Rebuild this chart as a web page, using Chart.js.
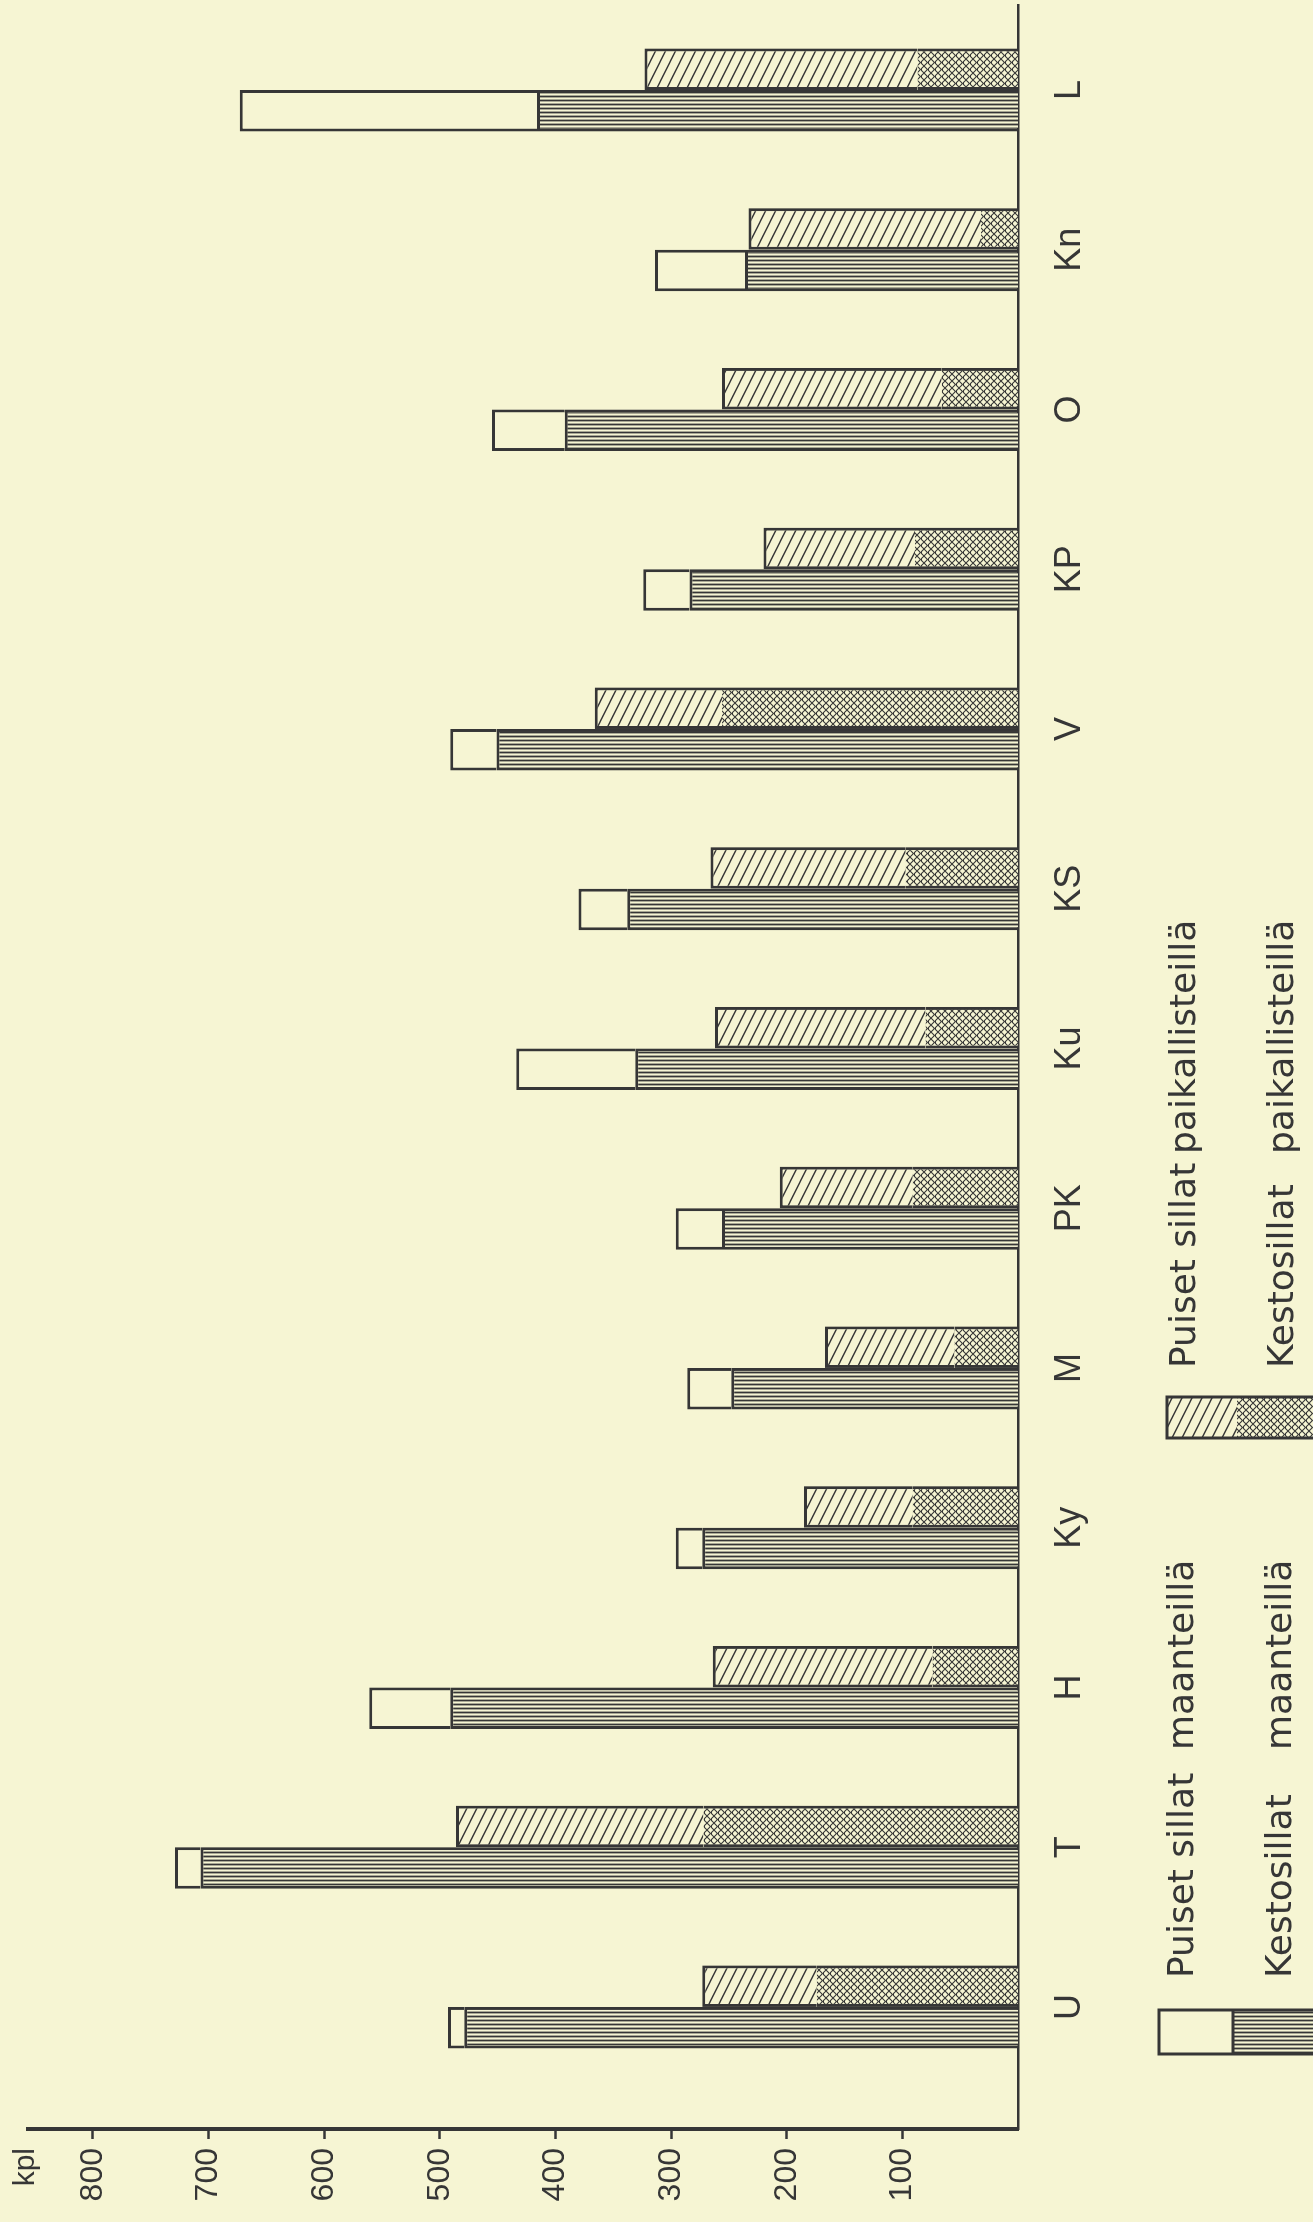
<!DOCTYPE html>
<html>
<head>
<meta charset="utf-8">
<title>Sillat</title>
<script src="https://cdn.jsdelivr.net/npm/chart.js@4.4.1/dist/chart.umd.min.js"></script>
<style>
  html, body { margin: 0; padding: 0; background: #f6f5d3; }
  body { width: 1313px; height: 2222px; overflow: hidden; position: relative; }
  /* the chart is drawn upright and turned a quarter turn, like the printed page */
  #wrap { position: absolute; left: 0; top: 0; width: 2222px; height: 1313px;
          transform-origin: 0 0; transform: translate(0, 2222px) rotate(-90deg); }
</style>
</head>
<body>
<div id="wrap"><canvas id="bridgeChart" width="2222" height="1313"></canvas></div>
<script>
const categories = ['U', 'T', 'H', 'Ky', 'M', 'PK', 'Ku', 'KS', 'V', 'KP', 'O', 'Kn', 'L'];
const kestoMaantiet = [479, 707, 491, 273, 248, 256, 331, 338, 451, 284, 392, 236, 416];
const puisetMaantiet = [14, 22, 70, 23, 38, 40, 103, 42, 40, 40, 63, 78, 257];
const kestoPaikallistiet = [174, 272, 74, 91, 55, 91, 80, 97, 256, 89, 66, 32, 87];
const puisetPaikallistiet = [99, 214, 190, 94, 112, 115, 182, 169, 110, 131, 190, 201, 236];
const yTicks = [100, 200, 300, 400, 500, 600, 700, 800];
const yMax = 856;
const unitLabel = 'kpl';
const seriesNames = ['Puiset sillat maanteillä', 'Kestosillat maanteillä',
                     'Puiset sillat paikallisteillä', 'Kestosillat paikallisteillä'];

const ink = '#363636';
const paper = '#f6f5d3';

function makePattern(w, h, draw) {
    const c = document.createElement('canvas');
    c.width = w;
    c.height = h;
    const g = c.getContext('2d');
    g.fillStyle = paper;
    g.fillRect(0, 0, w, h);
    g.strokeStyle = ink;
    draw(g, w, h);
    return g.createPattern(c, 'repeat');
}

// fine ruled lines (horizontal once the page is turned)
const ruled = makePattern(4, 4, (g, w, h) => {
    g.lineWidth = 1.8;
    g.beginPath();
    g.moveTo(1.5, 0); g.lineTo(1.5, h);
    g.stroke();
});

// single diagonal hatch
const diagonal = makePattern(20, 10, (g) => {
    g.lineWidth = 1.5;
    g.beginPath();
    for (const c of [-10, 0, 10]) {
        g.moveTo(-4, -2 + c); g.lineTo(24, 12 + c);
    }
    g.stroke();
});

// cross hatch
const crossed = makePattern(7, 7, (g) => {
    g.lineWidth = 1.1;
    g.beginPath();
    for (const c of [-7, 0, 7]) {
        g.moveTo(-1 + c, -1); g.lineTo(8 + c, 8);
        g.moveTo(-1 + c, 8); g.lineTo(8 + c, -1);
    }
    g.stroke();
});

const xy = arr => arr.map((v, i) => ({x: i, y: v}));

function swatch(ctx, x, y, w, split, bottom, topFill, bottomFill) {
    ctx.fillStyle = topFill;
    ctx.fillRect(x, y, w, split - y);
    ctx.fillStyle = bottomFill;
    ctx.fillRect(x, split, w, bottom - split);
    ctx.strokeStyle = ink;
    ctx.lineWidth = 3;
    ctx.strokeRect(x, y, w, bottom - y);
    if (topFill === paper) {
        ctx.beginPath();
        ctx.moveTo(x, split); ctx.lineTo(x + w, split);
        ctx.stroke();
    }
}

const paperLegend = {
    id: 'paperLegend',
    afterDraw(chart) {
        const ctx = chart.ctx;
        const ys = chart.scales.y;
        ctx.save();
        ctx.fillStyle = ink;
        ctx.font = '30px "Liberation Sans"';
        ctx.textAlign = 'right';
        ctx.textBaseline = 'alphabetic';
        ctx.fillText(unitLabel, ys.right - 19, ys.top + 6);

        swatch(ctx, 168, 1159, 44, 1233, 1322, paper, ruled);
        swatch(ctx, 784, 1167, 41, 1237, 1322, diagonal, crossed);

        ctx.fillStyle = ink;
        ctx.font = '36px "DejaVu Sans"';
        ctx.textAlign = 'left';
        const rows = [[seriesNames[0], 244, 472, 1193], [seriesNames[1], 244, 472, 1291],
                      [seriesNames[2], 854, 1068, 1195], [seriesNames[3], 854, 1068, 1293]];
        for (const [name, x1, x2, y] of rows) {
            const cut = name.lastIndexOf(' ');
            ctx.fillText(name.slice(0, cut), x1, y);
            ctx.fillText(name.slice(cut + 1), x2, y);
        }
        ctx.restore();
    }
};

new Chart(document.getElementById('bridgeChart'), {
    type: 'bar',
    data: {
        datasets: [
            {label: seriesNames[1], data: xy(kestoMaantiet), stack: 'maa',
             backgroundColor: ruled, borderColor: ink, borderWidth: 3},
            {label: seriesNames[0], data: xy(puisetMaantiet), stack: 'maa',
             backgroundColor: paper, borderColor: ink, borderWidth: 3},
            {label: seriesNames[3], data: xy(kestoPaikallistiet), stack: 'paik',
             backgroundColor: crossed, borderColor: ink,
             borderWidth: {top: 0, left: 3, right: 3, bottom: 0}},
            {label: seriesNames[2], data: xy(puisetPaikallistiet), stack: 'paik',
             backgroundColor: diagonal, borderColor: ink, borderWidth: 3}
        ]
    },
    options: {
        responsive: false,
        animation: false,
        datasets: {bar: {categoryPercentage: 0.52, barPercentage: 1}},
        layout: {padding: {left: 0, top: 27, right: 5, bottom: 0}},
        plugins: {legend: {display: false}, tooltip: {enabled: false}},
        scales: {
            x: {
                type: 'linear',
                stacked: true,
                offset: false,
                bounds: 'data',
                min: -0.764,
                max: 12.532,
                afterBuildTicks: s => { s.ticks = categories.map((c, i) => ({value: i})); },
                afterFit: s => { s.height = 295; },
                grid: {display: false, drawTicks: false, offset: false},
                border: {display: true, color: ink, width: 2.5},
                ticks: {
                    autoSkip: false,
                    maxRotation: 0,
                    padding: 30,
                    color: ink,
                    font: {family: 'Liberation Sans', size: 36},
                    callback: v => categories[v]
                }
            },
            y: {
                stacked: true,
                bounds: 'data',
                min: 0,
                max: yMax,
                afterBuildTicks: s => { s.ticks = yTicks.map(v => ({value: v})); },
                afterFit: s => { s.width = 93; },
                grid: {drawOnChartArea: false, drawTicks: true, tickLength: 10,
                       tickWidth: 2.5, tickColor: ink, color: ink},
                border: {display: true, color: ink, width: 4},
                ticks: {padding: 9, color: ink, font: {family: 'Liberation Sans', size: 32}}
            }
        }
    },
    plugins: [paperLegend]
});
</script>
</body>
</html>
